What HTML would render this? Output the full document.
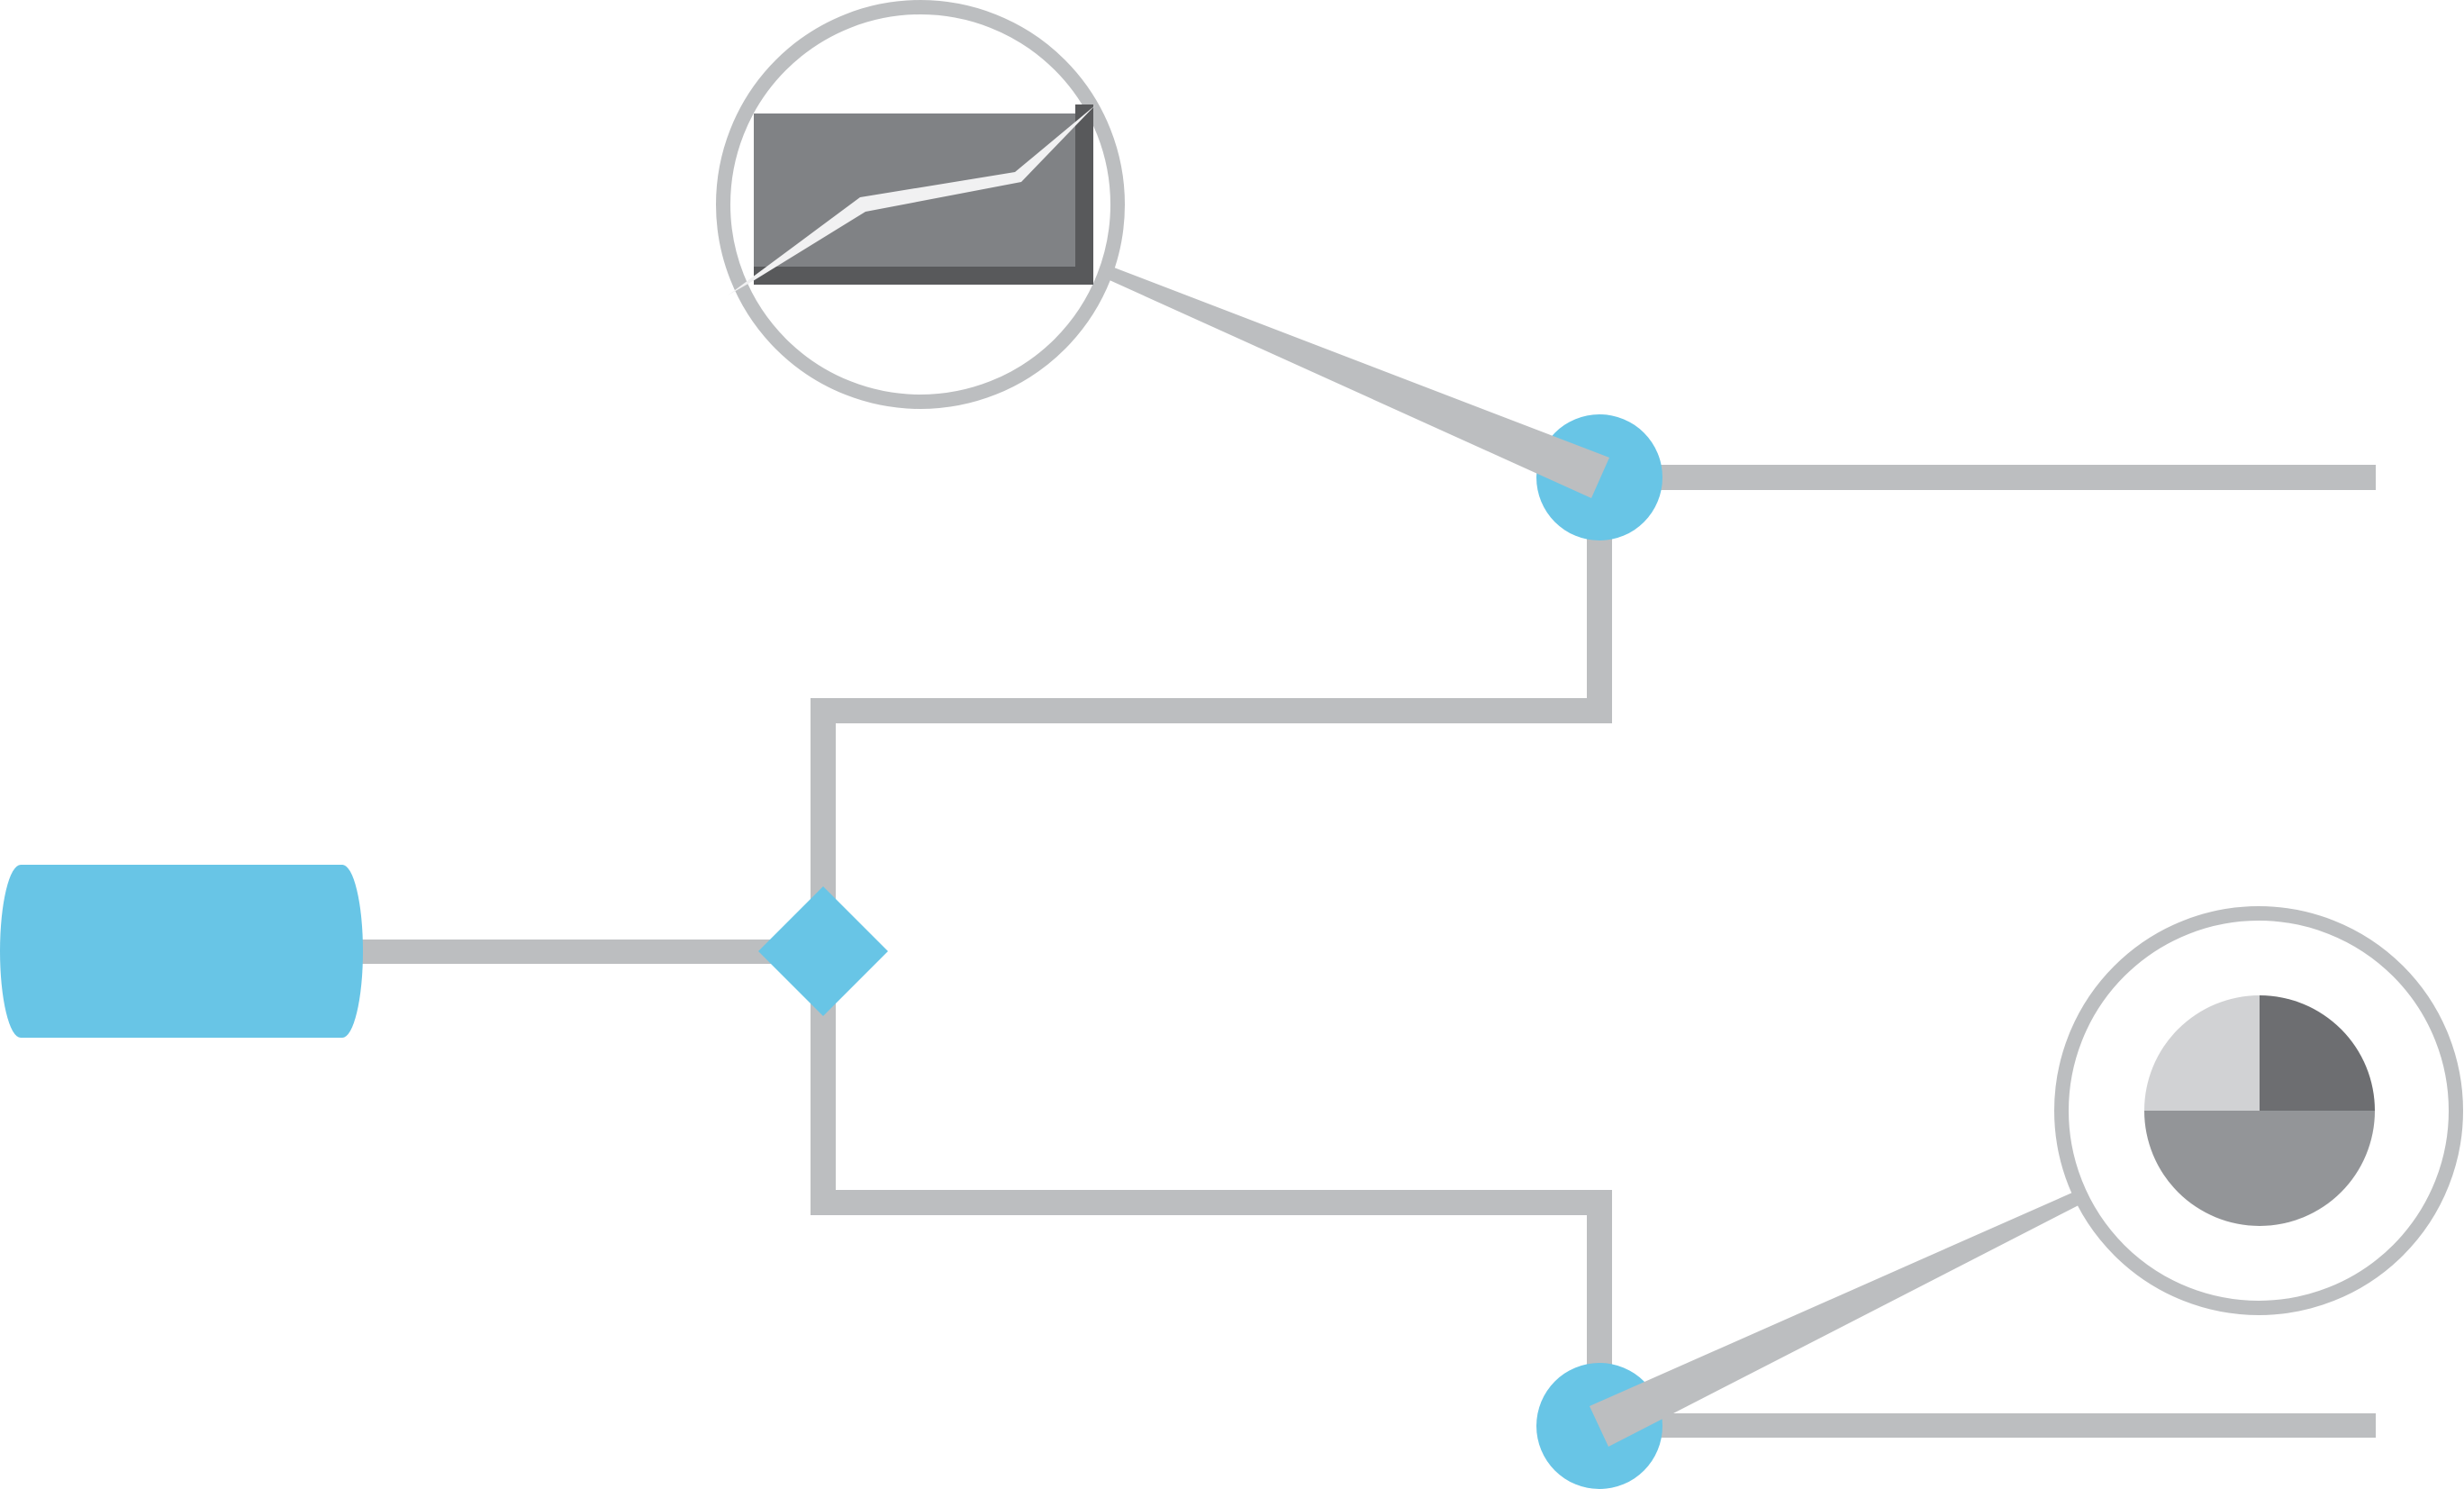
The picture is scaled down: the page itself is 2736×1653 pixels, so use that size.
<!DOCTYPE html>
<html><head><meta charset="utf-8"><style>html,body{margin:0;padding:0;background:#fff}svg{display:block}</style></head>
<body>
<svg width="2736" height="1653" viewBox="0 0 2736 1653" xmlns="http://www.w3.org/2000/svg">
<g fill="#bcbec0">
<rect x="1776" y="516" width="862" height="28"/>
<rect x="1776" y="1569" width="862" height="27"/>
<rect x="395" y="1043" width="520" height="27"/>
</g>
<path d="M1776 530 V789 H914 V1335 H1776 V1583" fill="none" stroke="#bcbec0" stroke-width="28"/>
<!-- cylinder -->
<path d="M23 960 H380 A23 96 0 0 1 380 1152 H23 A23 96 0 0 1 23 960 Z" fill="#68c5e6"/>
<!-- diamond -->
<polygon points="914,984 986,1056 914,1128 842,1056" fill="#68c5e6"/>
<!-- blue circles -->
<circle cx="1776" cy="530" r="70" fill="#68c5e6"/>
<circle cx="1776" cy="1583" r="70" fill="#68c5e6"/>
<!-- wedges -->
<polygon points="1237,297 1232,311 1767,553 1787,508" fill="#bcbec0"/>
<polygon points="2301,1324 2308,1338 1786,1606 1765,1561" fill="#bcbec0"/>
<!-- top magnifier -->
<circle cx="1022" cy="227" r="219" fill="#fff" stroke="#bcbec0" stroke-width="16"/>
<rect x="837" y="126" width="377" height="190" fill="#58595b"/>
<rect x="837" y="126" width="357" height="170" fill="#808285"/>
<rect x="1194" y="116" width="20" height="12" fill="#58595b"/>
<polygon points="808,328 955,219 1127,191 1216,117 1134,202 961,235 836,312" fill="#f1f1f2"/>
<!-- bottom magnifier -->
<circle cx="2508" cy="1233" r="219" fill="#fff" stroke="#bcbec0" stroke-width="16"/>
<path d="M2509 1233 H2381 A128 128 0 0 0 2637 1233 Z" fill="#939598"/>
<path d="M2509 1233 V1105 A128 128 0 0 0 2381 1233 Z" fill="#d1d2d4"/>
<path d="M2509 1233 V1105 A128 128 0 0 1 2637 1233 Z" fill="#6d6e71"/>
</svg>
</body></html>
